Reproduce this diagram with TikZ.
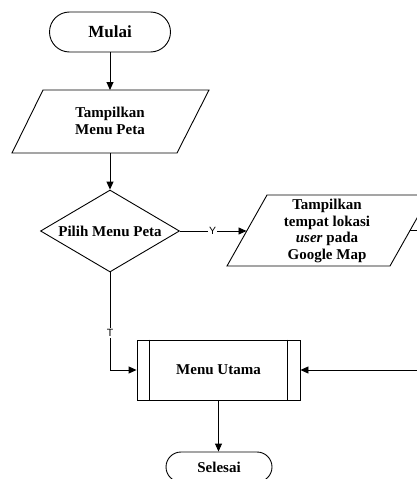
\documentclass[tikz,border=0pt]{standalone}
\usepackage{fontspec}
\setmainfont{Liberation Serif}
\setsansfont{Liberation Sans}
\usetikzlibrary{shapes.geometric,arrows.meta}

\tikzset{
  base/.style={draw=black, line width=0.9pt},
  flow/.style={line width=0.9pt, -{Triangle[length=8pt,width=7pt]}},
  plain/.style={line width=0.9pt},
  terminal/.style={base, rectangle, rounded corners=15pt, inner sep=0pt,
    font=\bfseries\fontsize{15}{17}\selectfont},
  boxtext/.style={align=center, inner sep=0pt,
    font=\bfseries\fontsize{15}{16.5}\selectfont},
  decision/.style={base, diamond, aspect=1.7, inner sep=0pt,
    minimum width=139pt, minimum height=82pt,
    font=\bfseries\fontsize{15}{17}\selectfont},
  process/.style={base, rectangle, inner sep=0pt,
    font=\bfseries\fontsize{15}{17}\selectfont},
  edgelabel/.style={fill=white, inner sep=1pt,
    font=\sffamily\fontsize{10.5}{12}\selectfont},
}

\begin{document}
\begin{tikzpicture}[x=1pt, y=-1pt]
  \useasboundingbox (0,0) rectangle (417,479);
  \clip (0,0) rectangle (417,479);

  % start
  \node[terminal, minimum width=121pt, minimum height=40pt, rounded corners=20pt,
        font=\bfseries\fontsize{17}{19}\selectfont] (mulai) at (110,32) {Mulai};

  % input: show map menu
  \coordinate (p1tl) at (43,90);   \coordinate (p1tr) at (209,90);
  \coordinate (p1br) at (177,153); \coordinate (p1bl) at (12,153);
  \draw[plain] (p1tl) -- (p1tr) -- (p1br) -- (p1bl) -- cycle;
  \node[boxtext] (tampil) at (110,121) {Tampilkan\\Menu Peta};
  \coordinate (p1top) at (110,90);
  \coordinate (p1bot) at (110,153);

  % decision
  \node[decision] (pilih) at (110,231) {Pilih Menu Peta};

  % output: user location on the map
  \coordinate (p2tl) at (267,195); \coordinate (p2tr) at (430,195);
  \coordinate (p2br) at (390,266); \coordinate (p2bl) at (227,266);
  \draw[plain] (p2tl) -- (p2tr) -- (p2br) -- (p2bl) -- cycle;
  \node[boxtext, font=\bfseries\fontsize{15}{16.8}\selectfont] (lokasi) at (327,231)
    {Tampilkan\\tempat lokasi\\\textit{user} pada\\Google Map};
  \coordinate (p2in) at (246.5,231);
  \coordinate (p2out) at (409.5,230);
  \coordinate (edgeA) at (417,230);

  % main menu (predefined process)
  \node[process, minimum width=163pt, minimum height=60pt] (utama) at (218.5,370) {Menu Utama};
  \draw[plain] ([xshift=13pt]utama.north west) -- ([xshift=13pt]utama.south west);
  \draw[plain] ([xshift=-13pt]utama.north east) -- ([xshift=-13pt]utama.south east);

  % end
  \node[terminal, minimum width=106pt, minimum height=30pt] (selesai) at (219,467) {Selesai};

  % connectors
  \draw[flow] (mulai.south) -- (p1top);
  \draw[flow] (p1bot) -- (pilih.north);
  \draw[flow] (pilih.east) -- node[edgelabel, pos=0.49] (ylab) {Y} (p2in);
  \draw[flow] (pilih.south) -- node[edgelabel, pos=0.62] (tlab) {T} (pilih.south |- utama.west) -- (utama.west);
  \draw[plain] (p2out) -- (edgeA);
  \coordinate (edgeB) at (417,370);
  \draw[flow] (edgeB) -- (utama.east);
  \draw[flow] (utama.south) -- (selesai.north -| utama.south);
\end{tikzpicture}
\end{document}
